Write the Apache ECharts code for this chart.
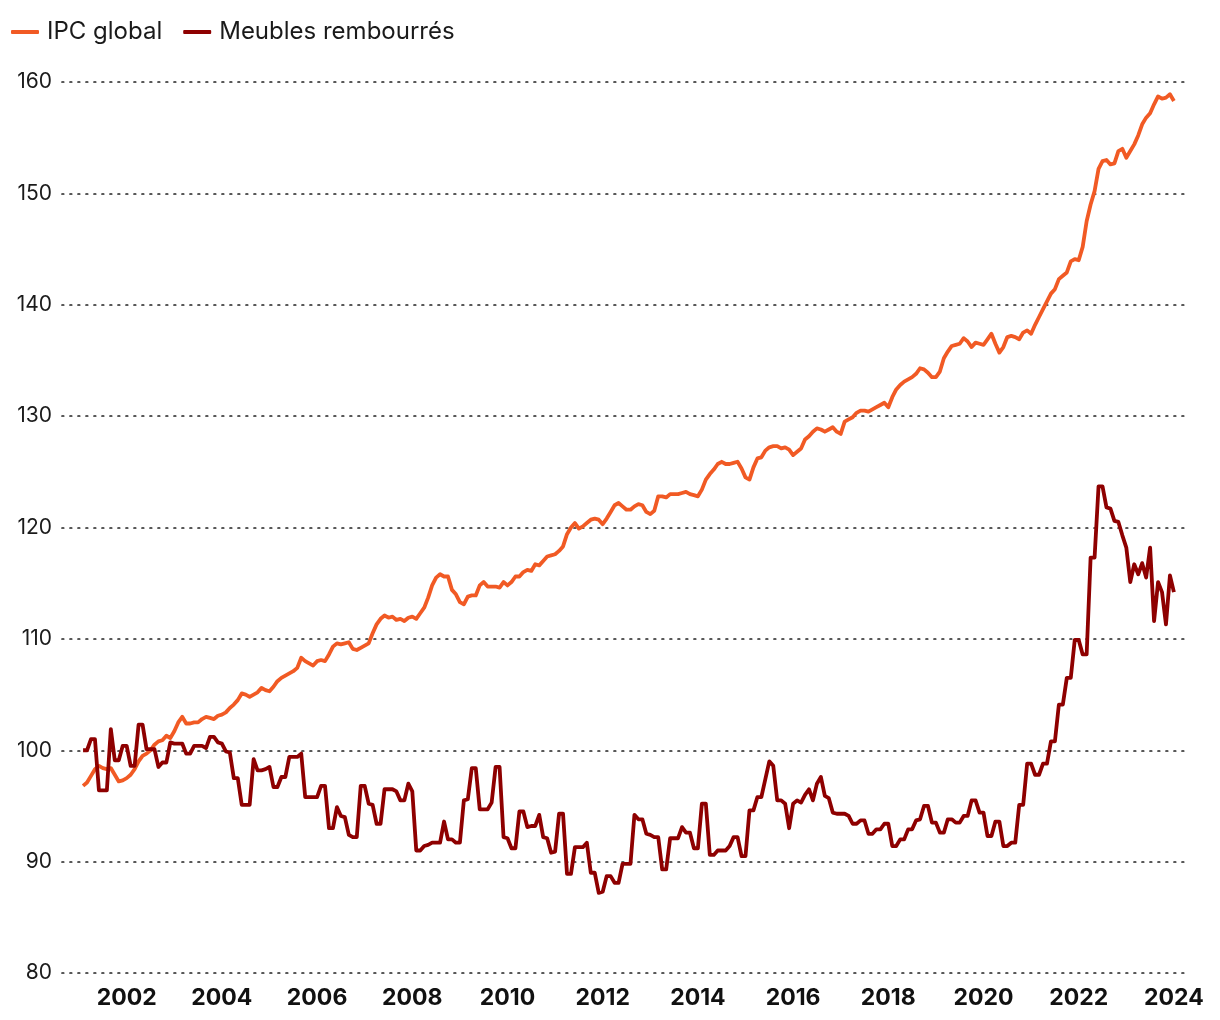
<!DOCTYPE html>
<html>
<head>
<meta charset="utf-8">
<script src="https://cdn.jsdelivr.net/npm/echarts@6/dist/echarts.min.js"></script>
<style>
html,body{margin:0;padding:0;background:#fff;}
#chart{width:1220px;height:1020px;}
</style>
</head>
<body>
<div id="chart"></div>
<script>
// Monthly data, one value per month (first month: February 2001)
const startYear = 2001 + 1 / 12;
const seriesNames = ['IPC global', 'Meubles rembourrés'];
const yearTicks = [2002, 2004, 2006, 2008, 2010, 2012, 2014, 2016, 2018, 2020, 2022, 2024];

const ipcGlobal = [
96.8,97.1,97.7,98.3,98.6,98.4,98.3,98.4,97.8,97.2,97.3,97.5,
97.8,98.3,99.0,99.5,99.7,100.0,100.5,100.8,100.9,101.3,101.1,101.7,
102.5,103.0,102.4,102.4,102.5,102.5,102.8,103.0,102.9,102.8,103.1,103.2,
103.4,103.8,104.1,104.5,105.1,105.0,104.8,105.0,105.2,105.6,105.4,105.3,
105.7,106.2,106.5,106.7,106.9,107.1,107.4,108.3,108.0,107.8,107.6,108.0,
108.1,108.0,108.6,109.3,109.6,109.5,109.6,109.7,109.1,109.0,109.2,109.4,
109.6,110.5,111.3,111.8,112.1,111.9,112.0,111.7,111.8,111.6,111.9,112.0,
111.8,112.3,112.8,113.7,114.8,115.5,115.8,115.6,115.6,114.4,114.0,113.3,
113.1,113.8,113.9,113.9,114.8,115.1,114.7,114.7,114.7,114.6,115.1,114.8,
115.1,115.6,115.6,116.0,116.2,116.1,116.7,116.6,117.0,117.4,117.5,117.6,
117.9,118.3,119.4,120.0,120.4,119.9,120.1,120.4,120.7,120.8,120.7,120.3,
120.8,121.4,122.0,122.2,121.9,121.6,121.6,121.9,122.1,122.0,121.4,121.2,
121.5,122.8,122.8,122.7,123.0,123.0,123.0,123.1,123.2,123.0,122.9,122.8,
123.4,124.3,124.8,125.2,125.7,125.9,125.7,125.7,125.8,125.9,125.3,124.5,
124.3,125.4,126.2,126.3,126.9,127.2,127.3,127.3,127.1,127.2,127.0,126.5,
126.8,127.1,127.9,128.2,128.6,128.9,128.8,128.6,128.8,129.0,128.6,128.4,
129.5,129.7,129.9,130.3,130.5,130.5,130.4,130.6,130.8,131.0,131.2,130.8,
131.7,132.4,132.8,133.1,133.3,133.5,133.8,134.3,134.2,133.9,133.5,133.5,
134.0,135.2,135.8,136.3,136.4,136.5,137.0,136.7,136.2,136.6,136.5,136.4,
136.9,137.4,136.5,135.7,136.2,137.1,137.2,137.1,136.9,137.5,137.7,137.4,
138.2,138.9,139.6,140.3,141.0,141.4,142.3,142.6,142.9,143.9,144.1,144.0,
145.2,147.5,149.0,150.2,152.2,152.9,153.0,152.6,152.7,153.8,154.0,153.2,
153.8,154.4,155.2,156.2,156.8,157.2,158.0,158.7,158.5,158.6,158.9,158.3
];

const meublesRembourres = [
100.0,100.0,101.0,101.0,96.4,96.4,96.4,101.9,99.1,99.1,100.4,100.4,
98.6,98.6,102.3,102.3,100.1,100.1,100.1,98.5,98.9,98.9,100.7,100.6,
100.6,100.6,99.7,99.7,100.4,100.4,100.4,100.2,101.2,101.2,100.7,100.6,
99.9,99.8,97.5,97.5,95.1,95.1,95.1,99.2,98.2,98.2,98.3,98.5,
96.7,96.7,97.6,97.6,99.4,99.4,99.4,99.7,95.8,95.8,95.8,95.8,
96.8,96.8,93.0,93.0,94.9,94.1,94.0,92.4,92.2,92.2,96.8,96.8,
95.2,95.1,93.4,93.4,96.5,96.5,96.5,96.3,95.5,95.5,97.0,96.3,
91.0,91.0,91.4,91.5,91.7,91.7,91.7,93.6,92.0,92.0,91.7,91.7,
95.5,95.6,98.4,98.4,94.7,94.7,94.7,95.3,98.5,98.5,92.2,92.1,
91.2,91.2,94.5,94.5,93.1,93.2,93.2,94.2,92.2,92.1,90.8,90.9,
94.3,94.3,88.9,88.9,91.3,91.3,91.3,91.7,89.0,89.0,87.2,87.3,
88.7,88.7,88.1,88.1,89.8,89.8,89.8,94.2,93.8,93.8,92.5,92.4,
92.2,92.2,89.3,89.3,92.1,92.1,92.1,93.1,92.6,92.6,91.2,91.2,
95.2,95.2,90.6,90.6,91.0,91.0,91.0,91.4,92.2,92.2,90.5,90.5,
94.6,94.6,95.8,95.8,97.4,99.0,98.6,95.5,95.5,95.2,93.0,95.2,
95.5,95.3,96.0,96.5,95.5,97.0,97.6,95.9,95.7,94.4,94.3,94.3,
94.3,94.1,93.4,93.4,93.7,93.7,92.5,92.5,92.9,92.9,93.4,93.4,
91.4,91.4,92.0,92.0,92.9,92.9,93.7,93.8,95.0,95.0,93.5,93.5,
92.6,92.6,93.8,93.8,93.5,93.5,94.1,94.1,95.5,95.5,94.4,94.4,
92.3,92.3,93.6,93.6,91.4,91.4,91.7,91.7,95.1,95.1,98.8,98.8,
97.8,97.8,98.8,98.8,100.8,100.8,104.1,104.1,106.5,106.5,109.9,109.9,
108.6,108.6,117.3,117.3,123.7,123.7,121.8,121.7,120.6,120.5,119.3,118.2,
115.1,116.7,115.8,116.8,115.5,118.2,111.6,115.1,114.2,111.3,115.7,114.2
];

const colors = ['#F15A24', '#8E0000'];

function toPairs(arr) {
  return arr.map((v, i) => [startYear + i / 12, v]);
}

const chart = echarts.init(document.getElementById('chart'), null, { renderer: 'canvas' });
const font = 'Inter, "Noto Sans", sans-serif';

chart.setOption({
  animation: false,
  backgroundColor: '#ffffff',
  legend: {
    left: 6,
    top: 15,
    itemWidth: 28,
    itemHeight: 4,
    itemGap: 21,
    icon: 'roundRect',
    textStyle: { fontFamily: font, fontSize: 24, color: '#1a1a1a', padding: [0, 0, 0, 3] },
    data: seriesNames
  },
  grid: { left: 62, right: 31, top: 82, bottom: 47, containLabel: false },
  xAxis: {
    type: 'value',
    min: 2000.641,
    max: 2024.317,
    axisLine: { show: false },
    axisTick: { show: false },
    splitLine: { show: false },
    axisLabel: {
      customValues: yearTicks,
      formatter: v => String(Math.round(v)),
      fontFamily: font,
      fontWeight: 'bold',
      fontSize: 23,
      color: '#111',
      margin: 14
    }
  },
  yAxis: {
    type: 'value',
    min: 80,
    max: 160,
    interval: 10,
    axisLine: { show: false },
    axisTick: { show: false },
    axisLabel: { fontFamily: font, fontSize: 21, color: '#1a1a1a', margin: 10 },
    splitLine: { show: true, lineStyle: { color: '#222', width: 1.7, type: [1.7, 6.3], cap: 'round' } }
  },
  series: [
    {
      name: seriesNames[0],
      type: 'line',
      data: toPairs(ipcGlobal),
      showSymbol: false,
      lineStyle: { color: colors[0], width: 3.8, join: 'round' },
      itemStyle: { color: colors[0] },
      z: 2
    },
    {
      name: seriesNames[1],
      type: 'line',
      data: toPairs(meublesRembourres),
      showSymbol: false,
      lineStyle: { color: colors[1], width: 3.8, join: 'round' },
      itemStyle: { color: colors[1] },
      z: 3
    }
  ]
});
</script>
</body>
</html>
